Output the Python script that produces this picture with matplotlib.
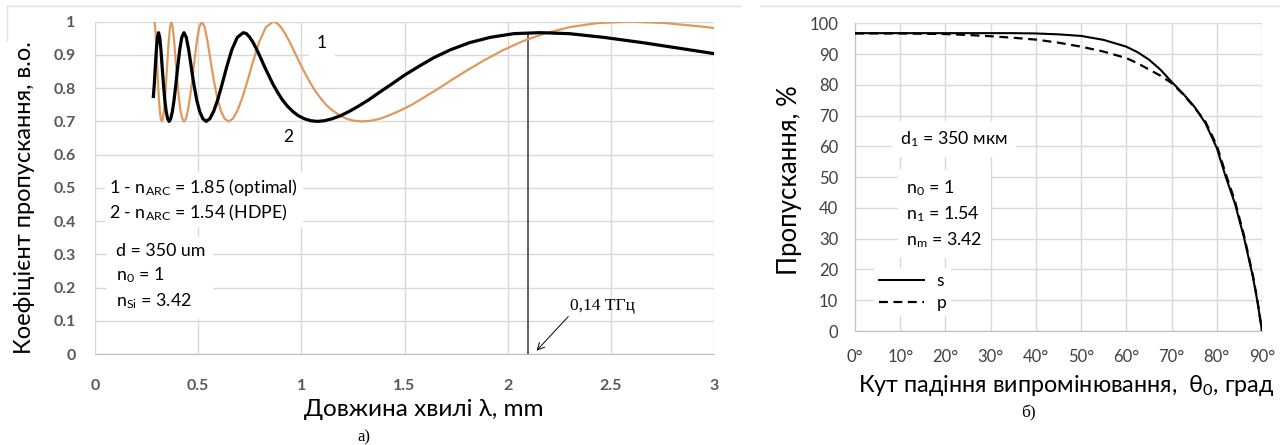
import matplotlib
matplotlib.use('Agg')
import matplotlib.pyplot as plt
from matplotlib.lines import Line2D

plt.rcParams['font.family'] = ['Lato', 'Noto Sans', 'DejaVu Sans']
plt.rcParams['mathtext.fontset'] = 'custom'
plt.rcParams['mathtext.rm'] = 'Lato'
plt.rcParams['mathtext.it'] = 'Lato:italic'
plt.rcParams['mathtext.bf'] = 'Lato:bold'
plt.rcParams['mathtext.default'] = 'regular'

# =====================
# Data (a) - transmission vs wavelength, mm
# =====================
lam_1 = [0.2878, 0.2918, 0.2960, 0.3003, 0.3047, 0.3093, 0.3139, 0.3188, 0.3238,
         0.3289, 0.3342, 0.3397, 0.3453, 0.3512, 0.3572, 0.3635, 0.3700, 0.3767,
         0.3837, 0.3909, 0.3985, 0.4063, 0.4144, 0.4229, 0.4317, 0.4409, 0.4504,
         0.4604, 0.4709, 0.4819, 0.4933, 0.5054, 0.5180, 0.5313, 0.5453, 0.5600,
         0.5756, 0.5920, 0.6094, 0.6279, 0.6475, 0.6684, 0.6907, 0.7145, 0.7400,
         0.7674, 0.7969, 0.8288, 0.8633, 0.8817, 0.9009, 0.9209, 0.9418, 0.9637,
         0.9867, 1.0107, 1.0360, 1.0626, 1.0905, 1.1200, 1.1511, 1.1840, 1.2188,
         1.2558, 1.2950, 1.3368, 1.3813, 1.4290, 1.4800, 1.5348, 1.5938, 1.6576,
         1.7267, 1.8017, 1.8836, 1.9733, 2.0720, 2.1811, 2.3022, 2.4376, 2.5900,
         2.7627, 2.9600, 3.0000]
T_1 = [1.000, 0.984, 0.941, 0.883, 0.824, 0.772, 0.733, 0.708, 0.700,
       0.708, 0.733, 0.772, 0.824, 0.883, 0.941, 0.984, 1.000, 0.984,
       0.941, 0.883, 0.824, 0.772, 0.733, 0.708, 0.700, 0.708, 0.733,
       0.772, 0.824, 0.883, 0.941, 0.984, 1.000, 0.984, 0.941, 0.883,
       0.824, 0.772, 0.733, 0.708, 0.700, 0.708, 0.733, 0.772, 0.824,
       0.883, 0.941, 0.984, 1.000, 0.996, 0.984, 0.965, 0.941, 0.913,
       0.883, 0.853, 0.824, 0.796, 0.772, 0.750, 0.733, 0.719, 0.708,
       0.702, 0.700, 0.702, 0.708, 0.719, 0.733, 0.750, 0.772, 0.796,
       0.824, 0.853, 0.883, 0.913, 0.941, 0.965, 0.984, 0.996, 1.000,
       0.996, 0.984, 0.981]

lam_2 = [0.2828, 0.2875, 0.2923, 0.2974, 0.3026, 0.3080, 0.3136, 0.3194, 0.3254,
         0.3317, 0.3382, 0.3450, 0.3520, 0.3593, 0.3670, 0.3750, 0.3833, 0.3920,
         0.4011, 0.4107, 0.4207, 0.4312, 0.4423, 0.4539, 0.4662, 0.4791, 0.4928,
         0.5073, 0.5227, 0.5390, 0.5564, 0.5749, 0.5948, 0.6160, 0.6388, 0.6634,
         0.6899, 0.7187, 0.7340, 0.7499, 0.7666, 0.7840, 0.8022, 0.8213, 0.8414,
         0.8624, 0.8845, 0.9078, 0.9323, 0.9582, 0.9856, 1.0146, 1.0453, 1.0780,
         1.1128, 1.1499, 1.1895, 1.2320, 1.2776, 1.3268, 1.3798, 1.4373, 1.4998,
         1.5680, 1.6427, 1.7248, 1.8156, 1.9164, 2.0292, 2.1560, 2.2997, 2.4640,
         2.6535, 2.8747, 3.0000]
T_2 = [0.775, 0.812, 0.865, 0.916, 0.953, 0.967, 0.953, 0.916, 0.865,
       0.812, 0.765, 0.730, 0.708, 0.700, 0.708, 0.730, 0.765, 0.812,
       0.865, 0.916, 0.953, 0.967, 0.953, 0.916, 0.865, 0.812, 0.765,
       0.730, 0.708, 0.700, 0.708, 0.730, 0.765, 0.812, 0.865, 0.916,
       0.953, 0.967, 0.964, 0.953, 0.937, 0.916, 0.892, 0.865, 0.839,
       0.812, 0.788, 0.765, 0.746, 0.730, 0.717, 0.708, 0.702, 0.700,
       0.702, 0.708, 0.717, 0.730, 0.746, 0.765, 0.788, 0.812, 0.839,
       0.865, 0.892, 0.916, 0.937, 0.953, 0.964, 0.967, 0.964, 0.953,
       0.937, 0.916, 0.904]

lam_mark = 2.1
T_mark = 0.966

# =====================
# Data (b) - transmission vs angle, %
# =====================
angle = [0, 5, 10, 15, 20, 25, 30, 35, 40, 45, 50, 55, 60, 62.5, 65, 67.5,
         70, 72.5, 75, 77.5, 80, 82, 84, 86, 88, 89, 90]
T_s = [96.8, 96.8, 96.8, 96.8, 96.8, 96.8, 96.8, 96.8, 96.7, 96.4, 95.9, 94.6,
       92.4, 90.6, 88.2, 85.0, 81.0, 77.2, 73.0, 67.5, 59.5, 50.0, 41.5, 30.5,
       17.5, 9.5, 0.0]
T_p = [96.7, 96.7, 96.7, 96.6, 96.5, 96.2, 95.8, 95.3, 94.7, 93.7, 92.4, 90.8,
       88.7, 87.0, 85.0, 83.0, 80.6, 77.0, 72.8, 68.0, 60.3, 51.0, 42.3, 31.2,
       18.0, 9.8, 0.0]

x_ticks_a = [0, 0.5, 1, 1.5, 2, 2.5, 3]
x_labels_a = ['0', '0.5', '1', '1.5', '2', '2.5', '3']
y_ticks_a = [i / 10 for i in range(11)]
y_labels_a = ['0', '0.1', '0.2', '0.3', '0.4', '0.5', '0.6', '0.7', '0.8', '0.9', '1']
x_ticks_b = list(range(0, 91, 10))
x_labels_b = [f'{v}°' for v in x_ticks_b]
y_ticks_b = list(range(0, 101, 10))

W, H = 1280, 445
fig = plt.figure(figsize=(W / 100, H / 100), dpi=100)

# chart frames (faint top borders)
fig.add_artist(Line2D([7 / W, 740 / W], [1 - 5.5 / H, 1 - 5.5 / H], color='#e0e0e0', lw=1))
fig.add_artist(Line2D([7 / W, 7 / W], [1 - 5.5 / H, 1 - 40 / H], color='#e0e0e0', lw=1))
fig.add_artist(Line2D([760 / W, 1280 / W], [1 - 5.5 / H, 1 - 5.5 / H], color='#e0e0e0', lw=1))

grid_c = '#d9d9d9'

# =====================
# Panel (a)
# =====================
ax1 = fig.add_axes([95 / W, (H - 354) / H, 619 / W, 332.3 / H])
ax1.plot(lam_1, T_1, color='#DE9A5E', lw=1.6, zorder=3)
ax1.plot(lam_2, T_2, color='black', lw=2.3, zorder=4)
ax1.plot([lam_mark, lam_mark], [0, T_mark], color='#555555', lw=1.3, zorder=2)

ax1.set_xlim(0, 3)
ax1.set_ylim(0, 1)
ax1.set_xticks(x_ticks_a)
ax1.set_xticklabels(x_labels_a, fontweight='bold', color='#595959', fontsize=11.5)
ax1.set_yticks(y_ticks_a)
ax1.set_yticklabels(y_labels_a, fontweight='bold', color='#595959', fontsize=11.5)
ax1.tick_params(length=0, pad=14)
ax1.tick_params(axis='x', pad=18)
ax1.grid(True, color=grid_c, lw=1)
ax1.set_axisbelow(True)
for s in ['top', 'right', 'left']:
    ax1.spines[s].set_visible(False)
ax1.spines['bottom'].set_color('#bfbfbf')

box = dict(facecolor='white', edgecolor='none', pad=3)
ax1.text(1.10, 0.936, '1', fontsize=12.5, ha='center', va='center',
         bbox=dict(facecolor='white', edgecolor='none', pad=6))
ax1.text(0.935, 0.653, '2', fontsize=12.5, ha='center', va='center')
ax1.text(0.07, 0.464, '1 - n$_{ARC}$ = 1.85 (optimal)\n2 - n$_{ARC}$ = 1.54 (HDPE)',
         fontsize=12.8, ha='left', va='center', linespacing=1.3, bbox=box)
ax1.text(0.10, 0.232, 'd = 350 um\nn$_0$ = 1\nn$_{Si}$ = 3.42',
         fontsize=12.8, ha='left', va='center', linespacing=1.4,
         bbox=dict(facecolor='white', edgecolor='none', pad=6))
ax1.annotate('0,14 ТГц', xy=(2.14, 0.01), xytext=(2.30, 0.145),
             fontsize=12.5, family='Liberation Serif', ha='left', va='center',
             arrowprops=dict(arrowstyle='->', color='black', lw=0.7,
                             shrinkA=0, shrinkB=0, relpos=(0.02, 0.0)))

fig.text(25 / W, 1 - 198 / H, 'Коефіцієнт пропускання, в.о.', fontsize=17,
         rotation=90, ha='center', va='center')
fig.text(424 / W, 1 - 410 / H, 'Довжина хвилі λ, mm', fontsize=17.5,
         ha='center', va='center')
fig.text(364 / W, 1 - 437 / H, 'а)', fontsize=12, family='Liberation Serif',
         ha='center', va='center')

# =====================
# Panel (b)
# =====================
ax2 = fig.add_axes([855 / W, (H - 331) / H, 407 / W, 307.7 / H])
ax2.plot(angle, T_s, color='black', lw=1.5, label='s', zorder=4)
ax2.plot(angle, T_p, color='black', lw=1.6, dashes=(4, 2.5), label='p', zorder=3)

ax2.set_xlim(0, 90)
ax2.set_ylim(0, 100)
ax2.set_xticks(x_ticks_b)
ax2.set_xticklabels(x_labels_b, color='#404040', fontsize=12)
ax2.set_yticks(y_ticks_b)
ax2.set_yticklabels([str(v) for v in y_ticks_b], color='#404040', fontsize=12)
ax2.tick_params(length=0, pad=12)
ax2.tick_params(axis='x', pad=13)
ax2.grid(True, color=grid_c, lw=1)
ax2.set_axisbelow(True)
for s in ['top', 'right']:
    ax2.spines[s].set_visible(False)
ax2.spines['bottom'].set_color('#bfbfbf')
ax2.spines['left'].set_color('#bfbfbf')

ax2.text(10, 62.4, 'd$_1$ = 350 мкм', fontsize=12.8, ha='left', va='center',
         bbox=dict(facecolor='white', edgecolor='none', pad=6))
ax2.text(11.3, 38, 'n$_0$ = 1\nn$_1$ = 1.54\nn$_m$ = 3.42', fontsize=12.8,
         ha='left', va='center', linespacing=1.4,
         bbox=dict(facecolor='white', edgecolor='none', pad=6))
leg = ax2.legend(loc='lower left', bbox_to_anchor=(0.025, 0.02), fontsize=12.5,
                 handlelength=2.6, handletextpad=0.7, labelspacing=0.35,
                 fancybox=False, framealpha=1, edgecolor='none', borderpad=0.3)

fig.text(790 / W, 1 - 180 / H, 'Пропускання, %', fontsize=18.5, rotation=90,
         ha='center', va='center')
fig.text(1066 / W, 1 - 386 / H, 'Кут падіння випромінювання,  θ$_0$, град',
         fontsize=16.8, ha='center', va='center')
fig.text(1028 / W, 1 - 413 / H, 'б)', fontsize=12.5, family='Liberation Serif',
         ha='center', va='center')

plt.savefig('out.png', dpi=100)
